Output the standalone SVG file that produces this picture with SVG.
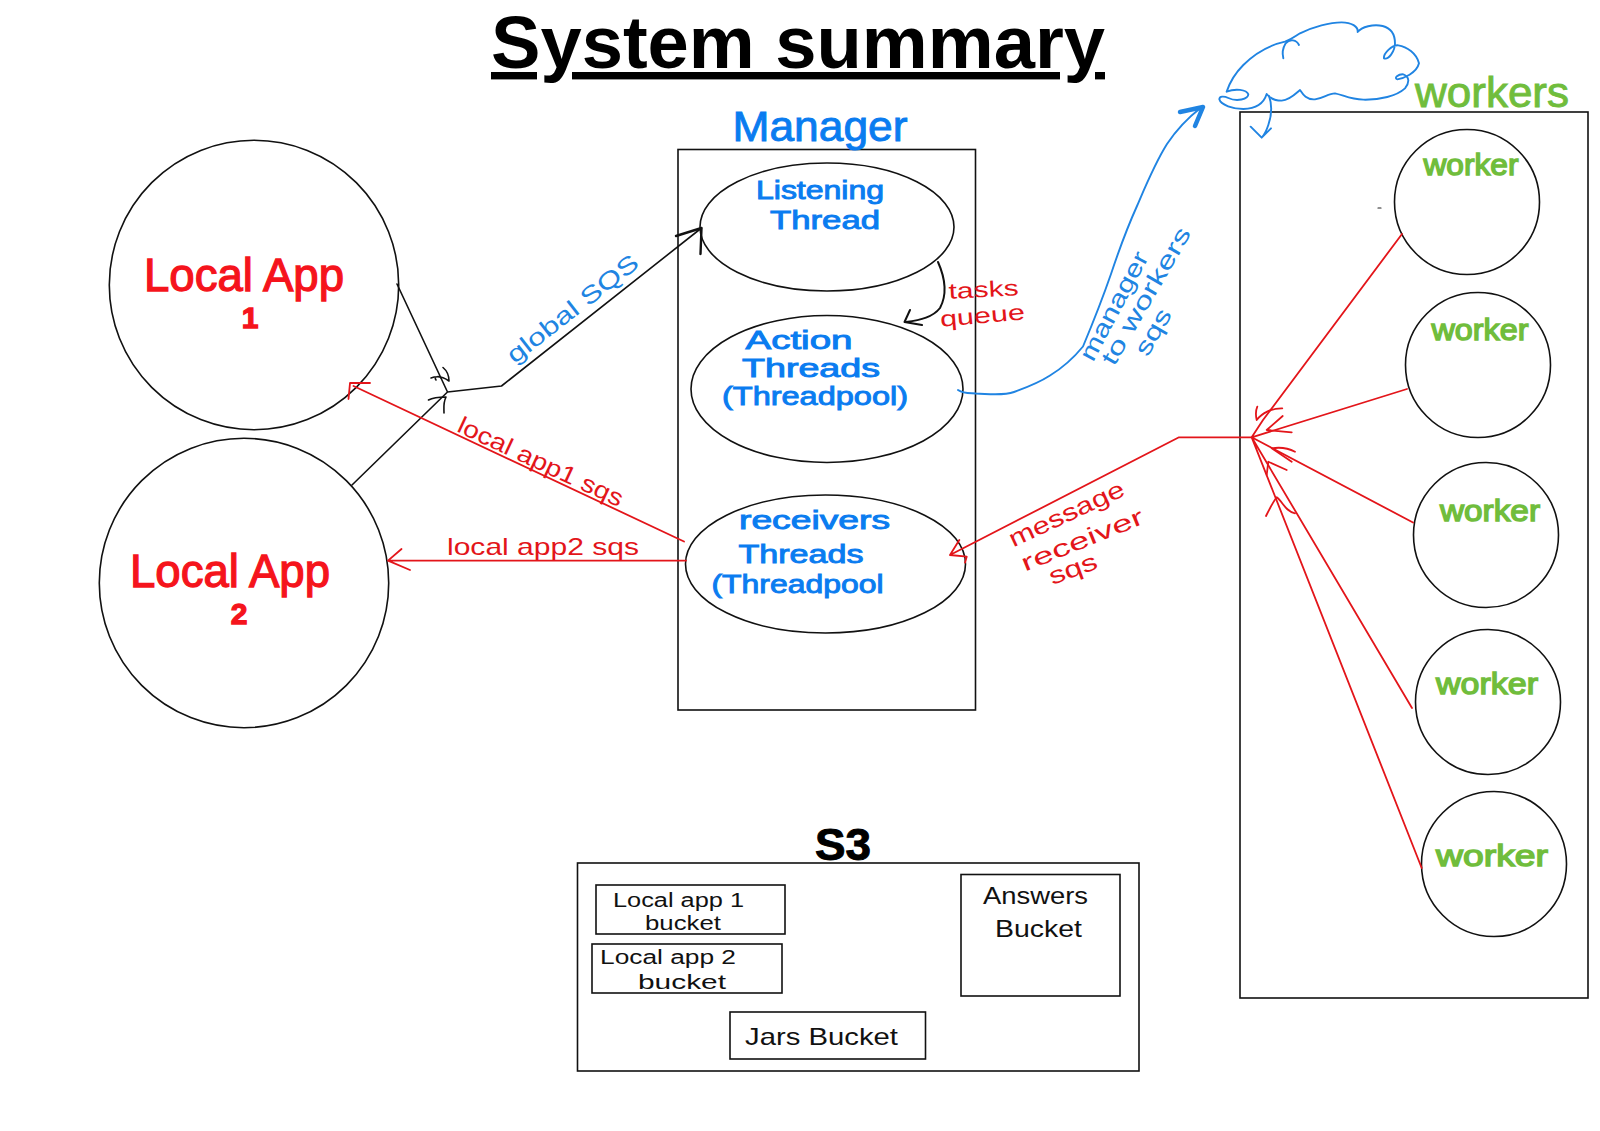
<svg xmlns="http://www.w3.org/2000/svg" width="1600" height="1131" viewBox="0 0 1600 1131">
<style>
.s{fill:#fff;stroke:#111;stroke-width:1.6}
.n{fill:none;stroke-linecap:round;stroke-linejoin:round}
.k{stroke:#111;stroke-width:1.6}
.r{stroke:#e3151a;stroke-width:1.8}
.b{stroke:#2084e2;stroke-width:1.9}
text{font-family:"Liberation Sans",Arial,sans-serif;text-anchor:middle}
.t{font-weight:700;font-size:74px;fill:#000;text-decoration:underline}
.ar{font-size:46px;fill:#f5141c;stroke:#f5141c;stroke-width:1.3}
.ar2{font-size:30px;font-weight:700;fill:#f5141c;stroke:#f5141c;stroke-width:1.3}
.bl{font-size:25px;fill:#0a7cf0;stroke:#0a7cf0;stroke-width:.9}
.gr{font-size:30px;fill:#70bd3c;stroke:#70bd3c;stroke-width:1.4}
.lr{font-size:24px;fill:#e3151a}
.lb{font-size:24px;fill:#2084e2}
.hk{font-size:20px;fill:#111}
</style>
<rect width="1600" height="1131" fill="#fff"/>
<text id="title" class="t" x="798" y="68" textLength="614" lengthAdjust="spacingAndGlyphs">System summary</text>

<g id="local-app-1">
<circle class="s" cx="254" cy="285" r="144.7"/>
<text class="ar" x="244" y="291" textLength="200" lengthAdjust="spacingAndGlyphs">Local App</text>
<text class="ar2" x="250" y="328">1</text>
</g>
<g id="local-app-2">
<circle class="s" cx="244" cy="583" r="144.7"/>
<text class="ar" x="230" y="587" textLength="200" lengthAdjust="spacingAndGlyphs">Local App</text>
<text class="ar2" x="239" y="624">2</text>
</g>

<g id="manager">
<rect class="s" x="678" y="149.5" width="297.5" height="560.5"/>
<text x="820" y="141" font-size="42" fill="#0a7cf0" stroke="#0a7cf0" stroke-width=".9" textLength="175" lengthAdjust="spacingAndGlyphs">Manager</text>
<ellipse class="s" cx="827" cy="227" rx="127" ry="64"/>
<text class="bl" x="820" y="199" textLength="128" lengthAdjust="spacingAndGlyphs">Listening</text>
<text class="bl" x="825" y="229" textLength="110" lengthAdjust="spacingAndGlyphs">Thread</text>
<ellipse class="s" cx="827" cy="389" rx="136" ry="73.5"/>
<text class="bl" x="799" y="349" textLength="107" lengthAdjust="spacingAndGlyphs">Action</text>
<text class="bl" x="811" y="377" textLength="138" lengthAdjust="spacingAndGlyphs">Threads</text>
<text class="bl" x="815" y="405" textLength="186" lengthAdjust="spacingAndGlyphs">(Threadpool)</text>
<ellipse class="s" cx="825.5" cy="564" rx="140" ry="69"/>
<text class="bl" x="814.5" y="529" textLength="151" lengthAdjust="spacingAndGlyphs">receivers</text>
<text class="bl" x="801" y="563" textLength="125" lengthAdjust="spacingAndGlyphs">Threads</text>
<text class="bl" x="797.5" y="593" textLength="172" lengthAdjust="spacingAndGlyphs">(Threadpool</text>
</g>

<g id="workers">
<rect class="s" x="1240" y="112" width="348" height="886"/>
<text x="1492" y="107" font-size="42" fill="#70bd3c" stroke="#70bd3c" stroke-width=".9" textLength="154" lengthAdjust="spacingAndGlyphs">workers</text>
</g>
<g id="worker-1"><circle class="s" cx="1467" cy="202" r="72.5"/><text class="gr" x="1471" y="175" textLength="95" lengthAdjust="spacingAndGlyphs">worker</text></g>
<g id="worker-2"><circle class="s" cx="1478" cy="365" r="72.5"/><text class="gr" x="1480" y="340" textLength="97" lengthAdjust="spacingAndGlyphs">worker</text></g>
<g id="worker-3"><circle class="s" cx="1486" cy="535" r="72.5"/><text class="gr" x="1490" y="521" textLength="100" lengthAdjust="spacingAndGlyphs">worker</text></g>
<g id="worker-4"><circle class="s" cx="1488" cy="702" r="72.5"/><text class="gr" x="1487" y="694" textLength="102" lengthAdjust="spacingAndGlyphs">worker</text></g>
<g id="worker-5"><circle class="s" cx="1494" cy="864" r="72.5"/><text class="gr" x="1492" y="866" textLength="112" lengthAdjust="spacingAndGlyphs">worker</text></g>

<g id="s3">
<rect class="s" x="577.500" y="863" width="561.500" height="208"/>
<text x="843" y="860" font-size="44" font-weight="700" fill="#000" stroke="#000" stroke-width="1" textLength="56" lengthAdjust="spacingAndGlyphs">S3</text>
</g>
<g id="bucket-local-1"><rect class="s" x="596" y="885" width="189" height="49"/>
<text class="hk" x="678.500" y="907" textLength="131" lengthAdjust="spacingAndGlyphs">Local app 1</text>
<text class="hk" x="683" y="930" textLength="76" lengthAdjust="spacingAndGlyphs">bucket</text></g>
<g id="bucket-local-2"><rect class="s" x="592" y="944" width="190" height="49"/>
<text class="hk" x="668" y="964" textLength="136" lengthAdjust="spacingAndGlyphs">Local app 2</text>
<text class="hk" x="682" y="989" textLength="88" lengthAdjust="spacingAndGlyphs">bucket</text></g>
<g id="bucket-jars"><rect class="s" x="730" y="1012" width="195.500" height="47"/>
<text class="hk" style="font-size:24px" x="821.500" y="1045" textLength="153" lengthAdjust="spacingAndGlyphs">Jars Bucket</text></g>
<g id="bucket-answers"><rect class="s" x="961" y="874.500" width="159" height="121.500"/>
<text class="hk" style="font-size:24px" x="1035.500" y="904" textLength="105" lengthAdjust="spacingAndGlyphs">Answers</text>
<text class="hk" style="font-size:24px" x="1038.500" y="937" textLength="87" lengthAdjust="spacingAndGlyphs">Bucket</text></g>

<g id="cloud">
<g transform="translate(1200 10) scale(.3333)" fill="none" stroke="#2084e2" stroke-width="5.700" stroke-linecap="round" stroke-linejoin="round">
<path d="M80 245C105 235 140 238 145 253C145 268 110 276 85 264C72 258 58 258 58 268C62 285 100 297 130 297C165 296 190 285 200 252C210 265 225 272 245 272C270 270 290 248 300 240C310 255 320 270 345 268C370 265 385 250 405 250C430 255 450 268 490 269C540 270 590 258 615 235C628 220 630 200 610 193C595 192 580 205 592 208C610 205 650 190 657 160C650 130 620 110 595 106C575 105 550 130 552 145C565 150 585 125 585 100C585 75 575 55 548 48C520 42 485 50 473 66C475 50 455 37 425 37C390 37 340 50 300 70C285 80 270 90 255 95C210 105 165 130 130 165C105 190 90 215 80 245"/>
<path d="M297 105C290 90 270 85 257 100C248 115 246 130 250 145"/>
<path d="M207 258C217 285 215 315 205 345C200 360 195 372 185 383M152 350L185 383L213 355"/>
</g>
<path class="n" stroke="#222" stroke-width="1.200" d="M1378 208H1381"/>
</g>

<g id="connectors">
<path class="n k" d="M397 284L447.500 392L501.500 386L701.500 228M352 485L447.500 392"/>
<path class="n k" d="M431 378C436 376 442 376 449 381C449 375 446 370 443 367.500M436 380C433 376 440 376 441 378M428.500 400C434 397 440 397 446 397C443 403 444 408 444 413"/>
<path class="n k" style="stroke-width:2.400" d="M676 236L701.500 228L700.500 254"/>
<path class="n k" style="stroke-width:2" d="M938 262C946 280 947 295 940 308C933 317 921 320 906 322M910 310L904.500 322L922 325"/>
<path class="n r" d="M684 541.500L353.500 386M370 383H350L348.500 399M686 560.600H388M401.500 549L388 560.600L410 570"/>
<path class="n r" d="M1251.700 437.300H1179L950 555M959.300 540L950 555L966.700 556.700L965 562.700"/>
<path class="n r" d="M1402 234L1263 420L1251.700 437.300M1407 389L1251.700 437.300M1413 522.500L1251.700 437.300M1412 708L1251.700 437.300M1421.700 868L1251.700 437.300"/>
<path class="n r" d="M1257.300 406.700C1255 412 1256 417 1256.700 420C1262 413 1272 408 1282.300 408.300M1282.700 416L1266.700 430L1291.700 432.300M1295 451.700C1288 448 1280 447 1271.700 448.300L1291.700 461.700M1286.700 470L1268.300 461.700L1266.700 475M1266 516C1270 508 1273 502 1276.700 497.300C1283 502 1286 512 1295 513.300"/>
<path class="n b" d="M958 390C964 394 970 393 976 393.500C990 394 1003 396 1014 392C1028 387 1040 382 1050 375.500C1064 367 1076 355 1083 346.500C1092 325 1102 300 1111 274C1119 250 1128 226 1137 206C1146 185 1155 163 1167 144C1177 129 1189 117 1200.500 108"/>
<path class="n b" style="stroke-width:4.500" d="M1180 112L1203 107L1195 126"/>
<text class="lb" transform="translate(572 308) rotate(-38)" y="9" textLength="160" lengthAdjust="spacingAndGlyphs">global SQS</text>
<text class="lr" transform="translate(541 461) rotate(25)" y="9" textLength="180" lengthAdjust="spacingAndGlyphs">local app1 sqs</text>
<text class="lr" x="543" y="555" textLength="192" lengthAdjust="spacingAndGlyphs">local app2 sqs</text>
<text class="lr" transform="translate(984 297) rotate(-3)" style="font-size:22px" textLength="70" lengthAdjust="spacingAndGlyphs">tasks</text>
<text class="lr" transform="translate(983 323) rotate(-5)" style="font-size:22px" textLength="85" lengthAdjust="spacingAndGlyphs">queue</text>
<text class="lb" transform="translate(1114 306) rotate(-62)" y="8" textLength="120" lengthAdjust="spacingAndGlyphs">manager</text>
<text class="lb" transform="translate(1146 296) rotate(-60)" y="8" textLength="155" lengthAdjust="spacingAndGlyphs">to workers</text>
<text class="lb" transform="translate(1153 332) rotate(-60)" y="8" textLength="50" lengthAdjust="spacingAndGlyphs">sqs</text>
<text class="lr" transform="translate(1066 513) rotate(-25)" y="9" textLength="125" lengthAdjust="spacingAndGlyphs">message</text>
<text class="lr" transform="translate(1082 539) rotate(-22)" y="9" textLength="130" lengthAdjust="spacingAndGlyphs">receiver</text>
<text class="lr" transform="translate(1073 569) rotate(-20)" y="8" textLength="50" lengthAdjust="spacingAndGlyphs">sqs</text>
</g>
</svg>
